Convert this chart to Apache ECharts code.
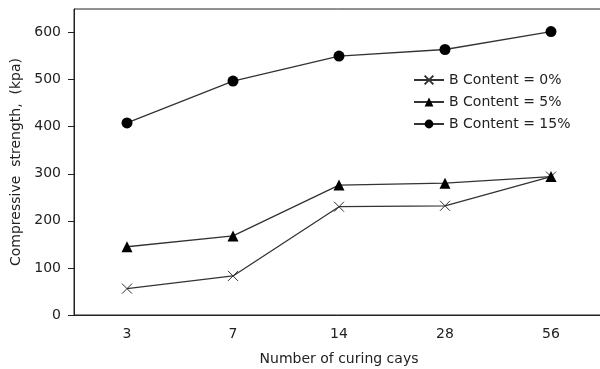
<!DOCTYPE html>
<html>
<head>
<meta charset="utf-8">
<script src="https://cdn.jsdelivr.net/npm/echarts@6/dist/echarts.min.js"></script>
<style>
  html, body { margin: 0; padding: 0; background: #fff; }
  #chart { width: 600px; height: 369px; }
</style>
</head>
<body>
<div id="chart"></div>
<script>
// curing days vs compressive strength (kpa)
const days = ["3", "7", "14", "28", "56"];
const b0 = [56, 83, 230, 232, 294];
const b5 = [145, 168, 276, 280, 294];
const b15 = [408, 497, 550, 564, 602];

const chart = echarts.init(document.getElementById("chart"));
const FONT = "DejaVu Sans, Verdana, sans-serif";
const INK = "#222";

const crossPath = "path://M0,0L10,10M10,0L0,10";

function series(name, data, symbol, size, extra) {
  return Object.assign({
    name,
    type: "line",
    data,
    symbol,
    symbolSize: size,
    showSymbol: true,
    lineStyle: { color: "#333", width: 1.3 },
    itemStyle: { color: "#000" },
    emphasis: { disabled: true },
  }, extra || {});
}

chart.setOption({
  backgroundColor: "#fff",
  animation: false,
  textStyle: { fontFamily: FONT },
  grid: {
    left: 74, top: 9, width: 530, height: 306,
    outerBoundsMode: "none",
    show: true, borderColor: "#222", borderWidth: 1,
  },
  legend: {
    orient: "vertical",
    left: 413,
    top: 73,
    padding: 0,
    itemWidth: 30,
    itemHeight: 11,
    itemGap: 8,
    textStyle: { fontFamily: FONT, fontSize: 14, color: INK },
    data: ["B Content = 0%", "B Content = 5%", "B Content = 15%"],
  },
  xAxis: {
    type: "category",
    data: days,
    boundaryGap: true,
    name: "Number of curing cays",
    nameLocation: "middle",
    nameGap: 37,
    nameTextStyle: { fontSize: 14, color: INK },
    axisLine: { lineStyle: { color: "#222", width: 1 } },
    axisTick: { alignWithLabel: true, length: 4, lineStyle: { color: "#222" } },
    axisLabel: { fontSize: 14, color: INK, margin: 12 },
    splitLine: { show: false },
  },
  yAxis: {
    type: "value",
    min: 0,
    max: 650,
    interval: 100,
    name: "Compressive  strength,  (kpa)",
    nameLocation: "middle",
    nameGap: 51,
    nameTextStyle: { fontSize: 14, color: INK },
    axisLine: { show: true, lineStyle: { color: "#222", width: 1 } },
    axisTick: { show: true, length: 6, lineStyle: { color: "#222" } },
    axisLabel: { fontSize: 14, color: INK, margin: 13, showMaxLabel: false },
    splitLine: { show: false },
  },
  series: [
    series("B Content = 0%", b0, crossPath, 10, {
      itemStyle: { color: "none", borderColor: "#333", borderWidth: 1 },
    }),
    series("B Content = 5%", b5, "triangle", 11),
    series("B Content = 15%", b15, "circle", 11),
  ],
});

window.addEventListener("resize", () => chart.resize());
</script>
</body>
</html>
